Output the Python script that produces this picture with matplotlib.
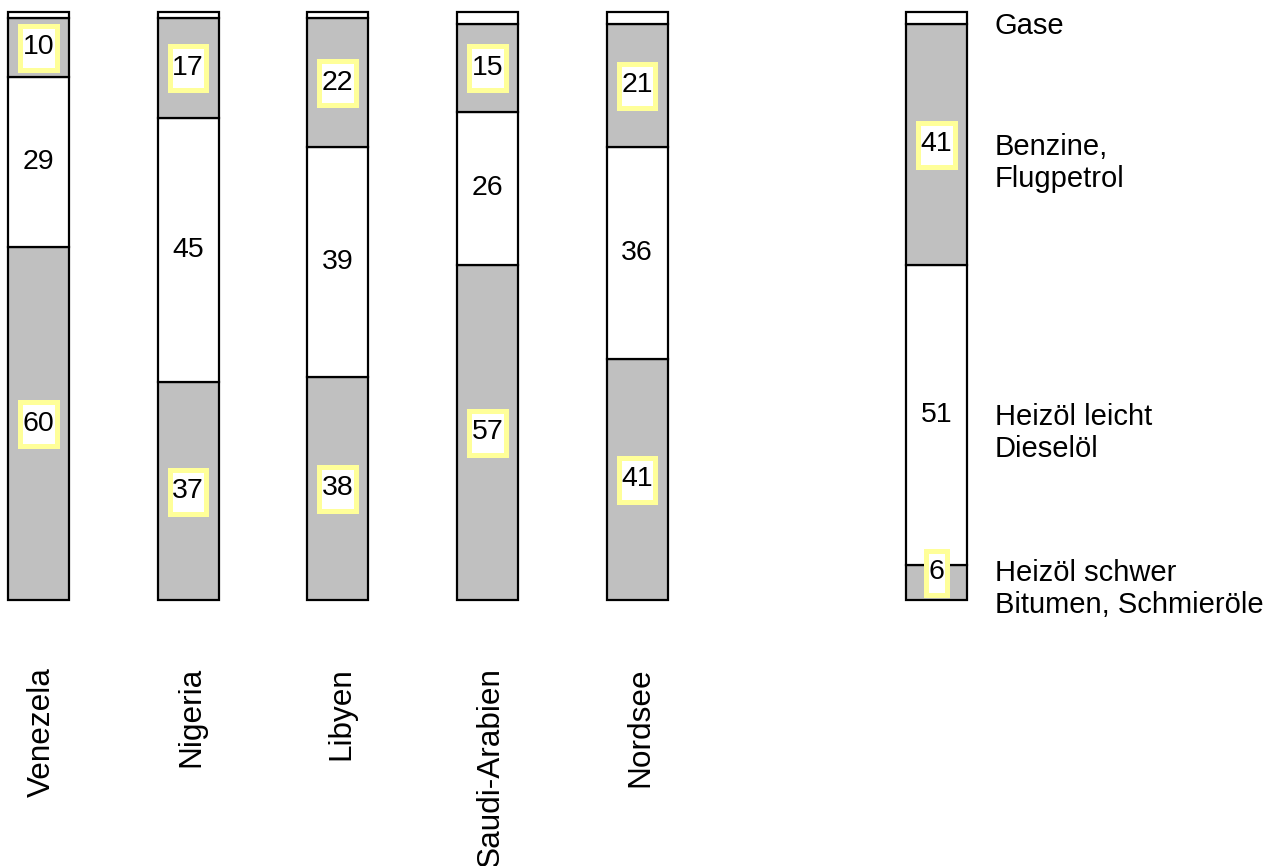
import numpy as np
import matplotlib
matplotlib.use("Agg")
import matplotlib.pyplot as plt
from matplotlib.patches import Rectangle

plt.rcParams['font.family'] = ['Liberation Sans', 'DejaVu Sans']

# Crude oil product yields in percent, bottom to top
categories = ['Venezela', 'Nigeria', 'Libyen', 'Saudi-Arabien', 'Nordsee', '']
heavy = [60, 37, 38, 57, 41, 6]      # Heizöl schwer, Bitumen, Schmieröle
light = [29, 45, 39, 26, 36, 51]     # Heizöl leicht, Dieselöl
petrol = [10, 17, 22, 15, 21, 41]    # Benzine, Flugpetrol
gas = [1, 1, 1, 2, 2, 2]             # Gase
slots = [0, 1, 2, 3, 4, 6]
legend_labels = ['Heizöl schwer\nBitumen, Schmieröle', 'Heizöl leicht\nDieselöl',
                 'Benzine,\nFlugpetrol', 'Gase']

W, H = 1274, 866
fig = plt.figure(figsize=(W / 100, H / 100), dpi=100)
ax = fig.add_axes([0, 0, 1, 1])

# pixel geometry of the plotting frame
y0_px, y100_px = 600, 12
x0_px, step_px = 38.3, 149.7
ppu = (y0_px - y100_px) / 100.0
ax.set_ylim(-(H - y0_px) / ppu, 100 + y100_px / ppu)
ax.set_xlim(-x0_px / step_px, (W - x0_px) / step_px)
ax.axis('off')

GREY = '#c0c0c0'
YELLOW = '#ffff99'
FS = 20.5
bar_w = 61 / step_px
renderer = fig.canvas.get_renderer()


def boxed_label(x, y, text):
    """Value label on a white plate with a thick yellow frame."""
    t = ax.text(x, y, text, ha='center', va='center', fontsize=FS, zorder=5)
    tw = t.get_window_extent(renderer).width
    lw_px = 5.0
    w = (tw + lw_px) / step_px
    h = (49 - lw_px) / ppu
    ax.add_patch(Rectangle((x - w / 2, y - h / 2 - 0.5 / ppu), w, h,
                           facecolor='white', edgecolor=YELLOW,
                           linewidth=lw_px * 0.72, zorder=4))


layers = [(heavy, GREY, True), (light, 'white', False), (petrol, GREY, True), (gas, 'white', None)]

bottom = np.zeros(len(slots))
for vals, col, boxed in layers:
    vals = np.array(vals, dtype=float)
    ax.bar(slots, vals, bottom=bottom, width=bar_w, color=col,
           edgecolor='black', linewidth=1.6, zorder=2)
    if boxed is not None:
        for x, b, v in zip(slots, bottom, vals):
            mid = b + v / 2
            if boxed:
                boxed_label(x, max(mid, 4.7), f'{int(v)}')
            else:
                ax.text(x, mid, f'{int(v)}', ha='center', va='center',
                        fontsize=FS, zorder=5)
    bottom += vals

# legend text beside the reference bar, first line level with the segment
ref_bottom = 0.0
lx = slots[-1] + (995 - 936.7) / step_px
line_pt = 32 * 0.72
for vals, lab in zip([heavy, light, petrol, gas], legend_labels):
    v = vals[-1]
    mid = float(np.clip(ref_bottom + v / 2, 5.0, 98.1))
    for i, line in enumerate(lab.split('\n')):
        ax.annotate(line, xy=(lx, mid), xytext=(0, -7.5 - i * line_pt),
                    textcoords='offset points', ha='left', va='baseline', fontsize=21)
    ref_bottom += v

# rotated category names below the bars
cat_y = -(667 - y0_px) / ppu
for x, name in zip(slots, categories):
    if name:
        ax.text(x, cat_y, name, rotation=90, rotation_mode='anchor',
                ha='right', va='center_baseline', fontsize=22.7, clip_on=False)

fig.savefig('out.png', dpi=100)
